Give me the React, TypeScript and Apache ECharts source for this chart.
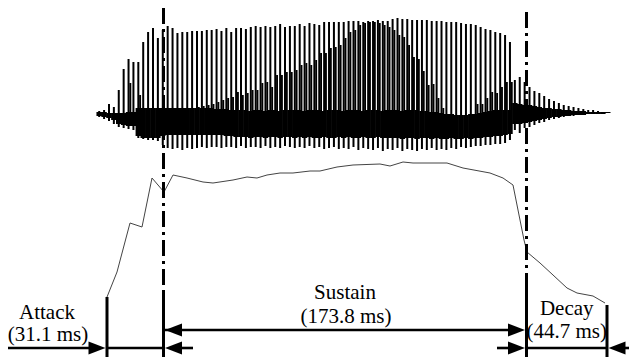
import React, { useEffect, useRef } from "react";
import * as echarts from "echarts";

// ---------- DATA (display units: horizontal position, vertical position) ----------
// Waveform: one spike per fundamental period
const spikeFirstX = 99.2;
const spikePeriod = 4.89;

const spikeTop = [
  111, 110, 104, 107, 90, 69, 59, 62, 62, 42,
  32, 28, 38, 30, 26, 28, 33, 32, 32, 31,
  31, 31, 30, 30, 29, 31, 28, 32, 28, 28,
  29, 27, 26, 27, 26, 27, 26, 24, 27, 26,
  26, 24, 26, 23, 24, 25, 22, 22, 22, 22,
  22, 21, 21, 21, 22, 21, 21, 20, 21, 21,
  19, 18, 19, 19, 20, 20, 20, 20, 21, 21,
  21, 22, 22, 22, 23, 24, 24, 25, 27, 29,
  30, 32, 33, 35, 42, 80, 77, 82, 87, 91,
  93, 96, 99, 101, 103, 105, 106, 107, 108, 109,
  110, 110, 111, 112, 113,
];

const spikeSecondTop: (number | null)[] = [
  null, null, null, null, null, null, 83, null, 95, null,
  null, null, null, null, null, null, null, null, null, 108,
  107, 106, 105, 104, 102, 100, 98, 97, 92, 95,
  93, 90, 90, 83, 82, 87, 75, 75, 72, 72,
  70, 65, 63, 65, 60, 53, 53, 48, 47, 45,
  38, 32, 30, 25, 23, 22, 22, 23, 25, 27,
  30, 35, 37, 45, 57, 59, 71, 85, 84, 98,
  108, null, null, null, null, null, null, 104, 104, 98,
  92, 93, 87, 82, 82, null, null, null, null, null,
  null, null, null, null, null, null, null, null, null, null,
  null, null, null, null, null,
];

const spikeBottom = [
  117, 119, 121, 124, 127, 128, 129, 130, 138, 139,
  140, 140, 141, 145, 148, 149, 148, 150, 148, 149,
  148, 147, 148, 147, 147, 148, 147, 147, 148, 146,
  148, 147, 147, 148, 146, 148, 147, 148, 146, 147,
  148, 147, 148, 146, 148, 147, 149, 148, 147, 149,
  148, 149, 147, 150, 148, 149, 150, 148, 151, 149,
  150, 148, 151, 149, 150, 151, 149, 150, 148, 150,
  149, 150, 148, 149, 147, 148, 147, 146, 146, 145,
  145, 144, 144, 143, 140, 130, 133, 128, 127, 125,
  123, 122, 120, 119, 118, 117, 116, 116, 115, 115,
  114, 114, 114, 113.5, 113,
];

const bandTop = [
  112, 112, 113, 113, 113, 113, 112, 112, 108, 108,
  108, 108, 108, 108, 108, 108, 108, 108, 108, 108,
  108, 108, 108, 108, 109, 109, 109, 110, 110, 110,
  110, 111, 110, 110, 111, 110, 110, 111, 110, 110,
  110, 110, 111, 110, 110, 110, 111, 110, 110, 110,
  111, 110, 110, 110, 111, 110, 110, 110, 111, 110,
  110, 110, 111, 110, 110, 110, 111, 111, 112, 112,
  113, 114, 114, 115, 115, 115, 114, 114, 113, 112,
  111, 110, 110, 110, 110, 103, 104, 105, 105, 106,
  107, 108, 108, 109, 109, 110, 110, 111, 111, 111,
  112, 112, 112, 112, 112,
];

const bandBottom = [
  116, 117, 118, 120, 124, 125, 126, 126, 136, 138,
  138, 138, 138, 136, 135, 135, 135, 135, 135, 135,
  135, 135, 135, 135, 135, 135, 136, 136, 137, 137,
  137, 138, 137, 137, 138, 137, 137, 138, 137, 137,
  138, 137, 138, 137, 138, 138, 137, 138, 138, 137,
  138, 137, 138, 138, 137, 138, 138, 137, 138, 138,
  138, 138, 139, 138, 138, 139, 138, 138, 139, 138,
  139, 139, 138, 139, 139, 138, 139, 138, 138, 137,
  137, 136, 136, 135, 134, 124, 124, 123, 122, 121,
  120, 119, 118, 117, 117, 116, 116, 115, 115, 115,
  114, 114, 114, 114, 113,
];

// Amplitude envelope
const envelopeX = [107, 117, 130, 142, 152, 164, 173, 187, 203, 213, 233, 247, 257, 267, 280, 293, 310, 320, 337, 353, 380, 390, 403, 413, 447, 463, 490, 503, 513, 524, 527, 540, 553, 567, 577, 593, 605];
const envelopeY = [297, 272, 223, 227, 178, 192, 175, 178, 182, 183, 180, 177, 178, 175, 173, 173, 171, 171, 167, 165, 164, 166, 162, 163, 163, 168, 173, 178, 185, 240, 252, 263, 275, 288, 293, 296, 303];

// Phases
const phaseNames = ["Attack", "Sustain", "Decay"];
const phaseDurationsMs = [31.1, 173.8, 44.7];
const phaseBoundaries = [107, 163.5, 526.5, 607];

// ---------- CHART ----------
const W = 629;
const H = 359;
const FONT = '21px "Liberation Serif", "Times New Roman", serif';

export default function App() {
  const ref = useRef<HTMLDivElement>(null);

  useEffect(() => {
    if (!ref.current) return;
    const chart = echarts.init(ref.current, null, { renderer: "svg" });

    const spikeX = spikeTop.map((_, i) => spikeFirstX + i * spikePeriod);
    const bandData = spikeX.map((x, i) => [x, bandTop[i], bandBottom[i]]);
    const spikeData = spikeX.map((x, i) => [x, spikeTop[i], spikeBottom[i]]);
    const secondData = spikeX
      .map((x, i) => (spikeSecondTop[i] == null ? null : [x + 1.8, spikeSecondTop[i] as number, bandTop[i]]))
      .filter((d) => d !== null) as number[][];
    const envelopeData = envelopeX.map((x, i) => [x, envelopeY[i]]);

    const [b0, b1, b2, b3] = phaseBoundaries;
    const lowRow = 348;
    const midRow = 330;
    const bottomEnd = 357;

    // arrows: [fromX, toX, y, heads(0 none,1 end,2 both)]
    const arrows = [
      [8, b0, lowRow, 1],
      [b0, b1, lowRow, 0],
      [193, b1, lowRow, 1],
      [b1, b2, midRow, 2],
      [497, b2, lowRow, 1],
      [b2, b3, lowRow, 0],
      [629, b3, lowRow, 1],
    ];

    const labelTexts = [
      phaseNames[0], `(${phaseDurationsMs[0]} ms)`,
      phaseNames[1], `(${phaseDurationsMs[1]} ms)`,
      phaseNames[2], `(${phaseDurationsMs[2]} ms)`,
    ];
    const labelPos = [
      [47, 312], [48, 334],
      [(b1 + b2) / 2, 292], [(b1 + b2) / 2 + 1, 316],
      [(b2 + b3) / 2, 308], [(b2 + b3) / 2, 331],
    ];

    const vLine = (data: number[][], dashed: boolean) => ({
      type: "line",
      data,
      symbol: "none",
      silent: true,
      z: 5,
      lineStyle: dashed
        ? { color: "#000", width: 3, type: [16, 5, 3, 5], cap: "butt" }
        : { color: "#000", width: 3, type: "solid", cap: "butt" },
    });

    const vertical = (lw: number) => (_p: any, api: any) => {
      const x = api.value(0);
      const a = api.coord([x, api.value(1)]);
      const b = api.coord([x, api.value(2)]);
      return {
        type: "line",
        shape: { x1: a[0], y1: a[1], x2: b[0], y2: b[1] },
        style: { stroke: "#000", lineWidth: lw },
      };
    };

    chart.setOption({
      animation: false,
      backgroundColor: "#fff",
      grid: { left: 0, right: 0, top: 0, bottom: 0, containLabel: false },
      xAxis: { type: "value", min: 0, max: W, show: false },
      yAxis: { type: "value", min: 0, max: H, inverse: true, show: false },
      series: [
        {
          type: "custom",
          name: "band",
          silent: true,
          clip: false,
          data: bandData,
          renderItem: (_p: any, api: any) => {
            const x = api.value(0);
            const a = api.coord([x - spikePeriod / 2 - 0.3, api.value(1)]);
            const b = api.coord([x + spikePeriod / 2 + 0.3, api.value(2)]);
            return {
              type: "rect",
              shape: { x: a[0], y: a[1], width: b[0] - a[0], height: b[1] - a[1] },
              style: { fill: "#000" },
            };
          },
        },
        {
          type: "custom",
          name: "spikes",
          silent: true,
          clip: false,
          data: spikeData,
          renderItem: vertical(2),
        },
        {
          type: "custom",
          name: "secondary",
          silent: true,
          clip: false,
          data: secondData,
          renderItem: vertical(1.9),
        },
        {
          type: "line",
          name: "envelope",
          data: envelopeData,
          symbol: "none",
          silent: true,
          z: 4,
          lineStyle: { color: "#444", width: 1 },
        },
        vLine([[b1, 8], [b1, 293]], true),
        vLine([[b2, 12], [b2, 287]], true),
        vLine([[b0, 297], [b0, bottomEnd]], false),
        vLine([[b1, 293], [b1, bottomEnd]], false),
        vLine([[b2, 287], [b2, bottomEnd]], false),
        vLine([[b3, 305], [b3, bottomEnd]], false),
        {
          type: "custom",
          name: "arrows",
          silent: true,
          clip: false,
          z: 6,
          data: arrows,
          renderItem: (_p: any, api: any) => {
            const x1 = api.value(0), x2 = api.value(1), y = api.value(2), heads = api.value(3);
            const a = api.coord([x1, y]);
            const b = api.coord([x2, y]);
            const dir = Math.sign(b[0] - a[0]);
            const L = 17, hw = 6.5;
            const children: any[] = [
              {
                type: "line",
                shape: { x1: a[0], y1: a[1], x2: b[0] - (heads >= 1 ? dir * (L - 2) : 0), y2: b[1] },
                style: { stroke: "#000", lineWidth: 2.6 },
              },
            ];
            const head = (tip: number[], d: number) => ({
              type: "polygon",
              shape: { points: [[tip[0], tip[1]], [tip[0] - d * L, tip[1] - hw], [tip[0] - d * L, tip[1] + hw]] },
              style: { fill: "#000" },
            });
            if (heads >= 1) children.push(head([b[0] - dir * 1.5, b[1]], dir));
            if (heads === 2) children.push(head([a[0] + dir * 1.5, a[1]], -dir));
            return { type: "group", children };
          },
        },
        {
          type: "custom",
          name: "labels",
          silent: true,
          clip: false,
          z: 7,
          data: labelPos,
          renderItem: (p: any, api: any) => {
            const c = api.coord([api.value(0), api.value(1)]);
            return {
              type: "text",
              x: c[0],
              y: c[1],
              style: {
                text: labelTexts[p.dataIndex],
                font: FONT,
                fill: "#000",
                align: "center",
                verticalAlign: "middle",
              },
            };
          },
        },
      ],
    });

    return () => chart.dispose();
  }, []);

  return (
    <div
      ref={ref}
      style={{ position: "fixed", left: 0, top: 0, width: W, height: H, background: "#fff" }}
    />
  );
}
